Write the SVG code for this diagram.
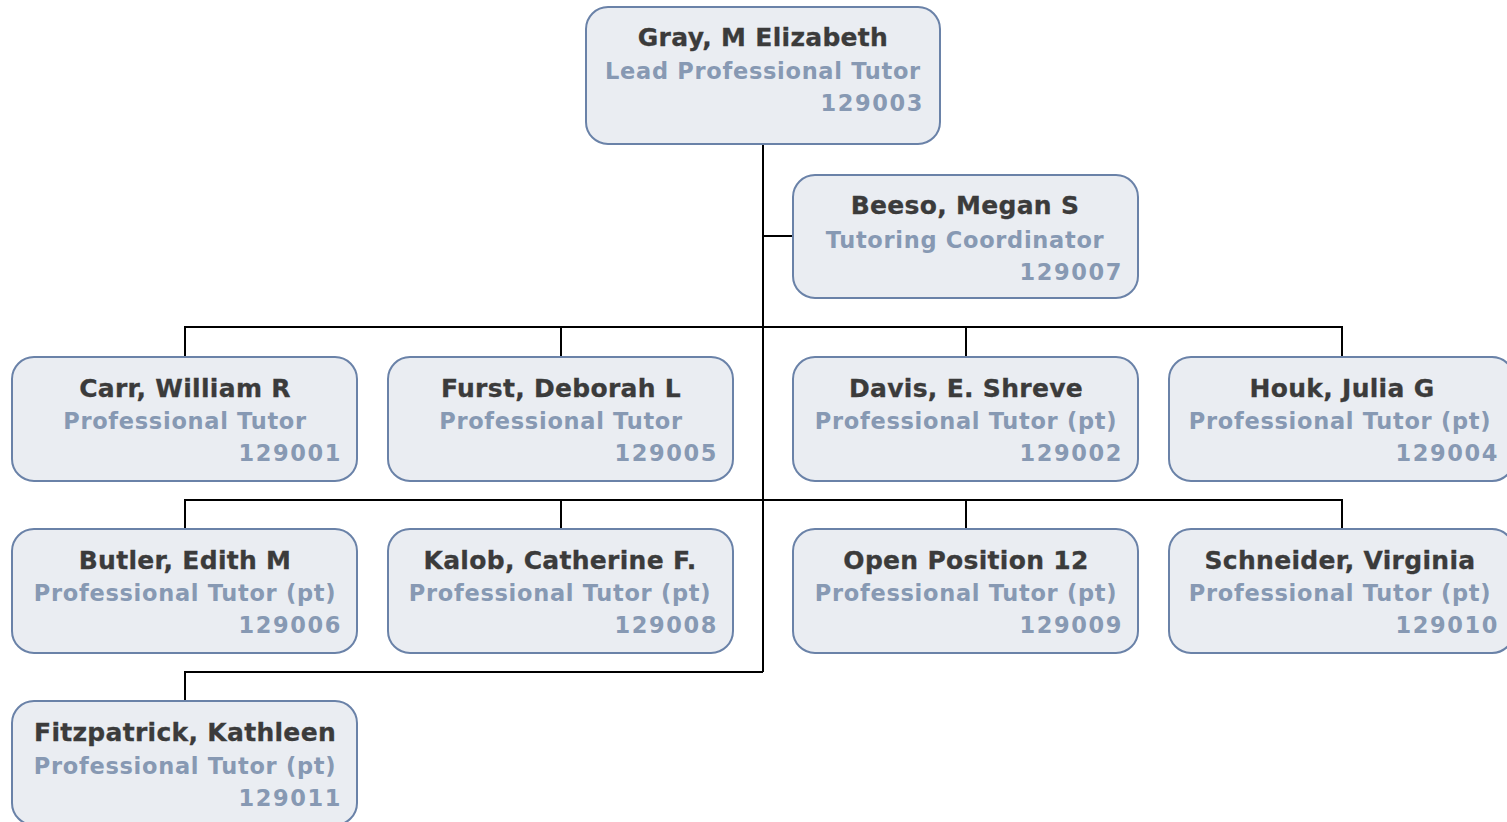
<svg xmlns="http://www.w3.org/2000/svg" width="1507" height="822" viewBox="0 0 1507 822">
  <style>
    .box { fill: #eaedf2; stroke: #6a82a8; stroke-width: 2; }
    .name { font-family: "DejaVu Sans", Verdana, sans-serif; font-weight: bold; font-size: 25px; fill: #3b3b3b; text-anchor: middle; letter-spacing: 0.3px; stroke: #3b3b3b; stroke-width: 0.3px; }
    .title { font-family: "DejaVu Sans", Verdana, sans-serif; font-weight: bold; font-size: 22.5px; fill: #8799b3; text-anchor: middle; letter-spacing: 0.7px; }
    .num { font-family: "DejaVu Sans", Verdana, sans-serif; font-weight: bold; font-size: 22.5px; fill: #8799b3; text-anchor: end; letter-spacing: 1.6px; }
    .link { fill: none; stroke: #000; stroke-width: 2; }
  </style>
  <rect width="1507" height="822" fill="#ffffff"/>

  <!-- reporting lines -->
  <g id="connectors">
    <path class="link" d="M763 144 V672"/>
    <path class="link" d="M763 236 H793"/>
    <path class="link" d="M185 357 V327 H1342 V357 M561 327 V357 M966 327 V357"/>
    <path class="link" d="M185 529 V500 H1342 V529 M561 500 V529 M966 500 V529"/>
    <path class="link" d="M185 701 V672 H763"/>
  </g>

  <g id="gray">
    <rect class="box" x="586" y="7" width="354" height="137" rx="22"/>
    <text class="name" x="763" y="46">Gray, M Elizabeth</text>
    <text class="title" x="763" y="79">Lead Professional Tutor</text>
    <text class="num" x="924" y="111">129003</text>
  </g>

  <g id="beeso">
    <rect class="box" x="793" y="175" width="345" height="123" rx="22"/>
    <text class="name" x="965" y="214">Beeso, Megan S</text>
    <text class="title" x="965" y="248">Tutoring Coordinator</text>
    <text class="num" x="1123" y="280">129007</text>
  </g>

  <g id="carr">
    <rect class="box" x="12" y="357" width="345" height="124" rx="22"/>
    <text class="name" x="185" y="397">Carr, William R</text>
    <text class="title" x="185" y="429">Professional Tutor</text>
    <text class="num" x="342" y="461">129001</text>
  </g>

  <g id="furst">
    <rect class="box" x="388" y="357" width="345" height="124" rx="22"/>
    <text class="name" x="561" y="397">Furst, Deborah L</text>
    <text class="title" x="561" y="429">Professional Tutor</text>
    <text class="num" x="718" y="461">129005</text>
  </g>

  <g id="davis">
    <rect class="box" x="793" y="357" width="345" height="124" rx="22"/>
    <text class="name" x="966" y="397">Davis, E. Shreve</text>
    <text class="title" x="966" y="429">Professional Tutor (pt)</text>
    <text class="num" x="1123" y="461">129002</text>
  </g>

  <g id="houk">
    <rect class="box" x="1169" y="357" width="345" height="124" rx="22"/>
    <text class="name" x="1342" y="397">Houk, Julia G</text>
    <text class="title" x="1340" y="429">Professional Tutor (pt)</text>
    <text class="num" x="1499" y="461">129004</text>
  </g>

  <g id="butler">
    <rect class="box" x="12" y="529" width="345" height="124" rx="22"/>
    <text class="name" x="185" y="569">Butler, Edith M</text>
    <text class="title" x="185" y="601">Professional Tutor (pt)</text>
    <text class="num" x="342" y="633">129006</text>
  </g>

  <g id="kalob">
    <rect class="box" x="388" y="529" width="345" height="124" rx="22"/>
    <text class="name" x="560" y="569">Kalob, Catherine F.</text>
    <text class="title" x="560" y="601">Professional Tutor (pt)</text>
    <text class="num" x="718" y="633">129008</text>
  </g>

  <g id="open12">
    <rect class="box" x="793" y="529" width="345" height="124" rx="22"/>
    <text class="name" x="966" y="569">Open Position 12</text>
    <text class="title" x="966" y="601">Professional Tutor (pt)</text>
    <text class="num" x="1123" y="633">129009</text>
  </g>

  <g id="schneider">
    <rect class="box" x="1169" y="529" width="345" height="124" rx="22"/>
    <text class="name" x="1340" y="569">Schneider, Virginia</text>
    <text class="title" x="1340" y="601">Professional Tutor (pt)</text>
    <text class="num" x="1499" y="633">129010</text>
  </g>

  <g id="fitzpatrick">
    <rect class="box" x="12" y="701" width="345" height="124" rx="22"/>
    <text class="name" x="185" y="741">Fitzpatrick, Kathleen</text>
    <text class="title" x="185" y="774">Professional Tutor (pt)</text>
    <text class="num" x="342" y="806">129011</text>
  </g>
</svg>
